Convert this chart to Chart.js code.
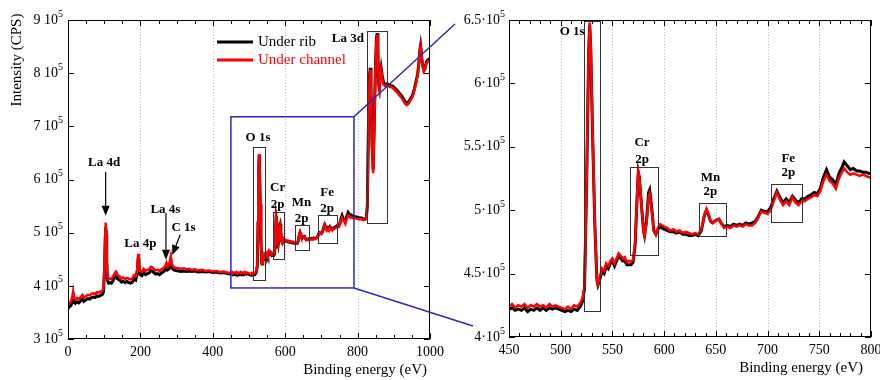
<!DOCTYPE html>
<html>
<head>
<meta charset="utf-8">
<script src="https://cdn.jsdelivr.net/npm/chart.js@4"></script>
<style>
  html, body { margin:0; padding:0; background:#fff; }
  #wrap { position:relative; width:880px; height:380px; }
  #wrap canvas { position:absolute; left:0; top:0; }
</style>
</head>
<body>
<div id="wrap">
  <canvas id="survey" width="880" height="380"></canvas>
  <canvas id="detail" width="880" height="380"></canvas>
</div>
<script>
/* ======= Data (binding energy in eV, intensity in kCPS) ======= */
const energy = [
  0,4,8,12,14,16,20,25,30,35,40,44,50,55,60,65,70,75,80,85,90,95,98,
  101,103,104,105,107,109,112,116,120,125,130,133,137,142,148,152,158,163,168,173,178,183,187,191,194,196,199,
  204,209,214,219,224,229,233,238,243,248,253,258,263,268,272,275,279,284,287,292,298,
  305,312,320,328,335,342,350,360,370,380,390,400,410,420,430,440,450,
  453,456,459,462,465,468,471,474,477,480,483,486,489,492,495,498,501,504,507,510,513,516,519,
  521,523,525,527,528,529,531,533,535,536,538,540,542,544,546,548,550,552,554,556,558,560,562,564,566,568,570,
  572,574,575,576,578,580,581,583,585,586,588,590,592,594,596,598,600,
  603,606,609,612,615,618,621,624,627,630,633,636,639,641,643,645,647,650,653,655,658,661,664,667,670,673,676,679,682,685,688,691,694,697,700,
  703,706,709,712,715,718,721,724,727,730,733,736,739,742,745,748,751,754,757,760,763,766,769,772,774,777,780,783,786,789,792,795,798,801,
  805,810,815,820,824,827,830,833,835,837,840,843,846,849,852,854,856,858,860,862,865,868,872,877,883,890,896,903,910,916,922,928,933,937,942,947,952,957,962,966,969,972,974,976,979,983,986,990,994,997,1000
];
const underChannel = [
  364,368,370,380,388,376,374,377,375,379,383,378,381,383,382,385,386,385,388,387,389,391,395,
  440,500,519,505,450,418,412,414,413,418,425,427,420,418,414,416,413,415,413,412,414,420,418,430,460,445,428,
  426,432,428,430,431,436,435,431,429,430,428,431,433,436,443,436,438,455,440,435,434,
  433,432,433,431,432,430,431,429,430,428,429,427,428,426,427,425,424,
  426,423,425,424,426,423,425,424,426,424,425,423,426,424,425,424,423,422,424,422,425,424,427,
  430,440,520,625,648,630,555,490,446,442,448,454,452,458,456,460,462,458,462,466,464,462,463,459,460,459,461,
  475,515,530,526,505,484,480,490,510,513,500,484,481,486,489,488,487,
  486,484,485,483,484,482,483,482,481,482,481,485,497,501,497,491,490,492,493,490,486,487,486,488,487,488,487,489,488,488,490,494,499,498,497,
  500,507,514,508,504,507,504,510,506,504,507,507,509,510,512,511,515,523,528,523,521,517,525,530,533,530,528,529,528,527,528,527,526,526,
  525,526,524,524,526,550,700,790,806,760,660,612,700,800,860,872,840,775,768,790,806,790,778,775,777,774,773,768,763,758,753,746,741,740,744,750,756,768,783,796,815,840,850,838,815,803,806,818,822,823,822
];
const underRib = [
  357,361,363,372,380,369,367,370,368,372,376,371,374,376,375,378,379,378,381,380,382,384,388,
  432,492,511,497,443,410,405,406,405,410,418,420,413,411,407,409,406,408,406,405,407,413,411,423,452,438,421,
  419,425,421,423,424,429,428,424,422,423,421,424,426,430,437,430,432,449,434,430,429,
  428,427,428,427,428,427,428,426,427,426,427,425,426,424,425,423,422,
  423,421,422,421,423,420,422,421,423,421,423,421,423,422,423,422,421,420,421,420,422,421,424,
  428,438,518,623,646,628,553,488,445,441,446,452,450,456,454,458,460,456,460,464,462,460,460,457,457,457,459,
  473,513,530,526,505,484,480,492,514,516,502,484,481,485,487,486,485,
  484,483,483,482,483,481,481,480,480,481,480,484,496,500,496,491,490,492,493,490,487,488,487,489,488,489,488,490,489,490,491,495,500,499,499,
  502,509,515,510,506,509,506,511,508,506,509,509,511,512,514,513,517,526,532,526,524,520,529,534,538,535,532,533,531,531,530,530,529,529,
  527,528,526,525,527,552,705,795,810,765,665,618,705,805,865,875,845,780,773,795,810,795,782,779,780,777,776,772,767,762,757,750,745,744,747,753,759,771,786,799,818,843,852,840,817,806,809,821,825,826,825
];

/* ticks */
const surveyXTicks = [0, 200, 400, 600, 800, 1000];
const surveyYTicks = [3e5, 4e5, 5e5, 6e5, 7e5, 8e5, 9e5];
const detailXTicks = [450, 500, 550, 600, 650, 700, 750, 800];
const detailYTicks = [4e5, 4.5e5, 5e5, 5.5e5, 6e5, 6.5e5];

/* annotations (data units: eV, CPS) */
const surveyBoxes = [
  { x0: 511, x1: 543, y0: 4.11e5, y1: 6.62e5 },
  { x0: 565, x1: 597, y0: 4.50e5, y1: 5.38e5 },
  { x0: 628, x1: 665, y0: 4.68e5, y1: 5.15e5 },
  { x0: 690, x1: 743, y0: 4.80e5, y1: 5.33e5 },
  { x0: 825, x1: 882, y0: 5.19e5, y1: 8.80e5 }
];
const surveyLabels = [
  { text: 'La 4d', x: 100, y: 6.31e5 },
  { text: 'La 4p', x: 200, y: 4.80e5 },
  { text: 'La 4s', x: 269, y: 5.44e5 },
  { text: 'C 1s', x: 319, y: 5.10e5 },
  { text: 'O 1s', x: 525, y: 6.78e5 },
  { text: 'Cr', x: 579, y: 5.84e5 }, { text: '2p', x: 579, y: 5.52e5 },
  { text: 'Mn', x: 645, y: 5.57e5 }, { text: '2p', x: 645, y: 5.27e5 },
  { text: 'Fe', x: 716, y: 5.75e5 }, { text: '2p', x: 716, y: 5.46e5 },
  { text: 'La 3d', x: 773, y: 8.64e5 }
];
const surveyArrows = [
  { x0: 104, y0: 6.14e5, x1: 104, y1: 5.32e5 },
  { x0: 270.6, y0: 5.37e5, x1: 270.6, y1: 4.49e5 },
  { x0: 310, y0: 4.96e5, x1: 288, y1: 4.58e5 }
];
const zoomRegion = { x0: 450, x1: 790, y0: 3.96e5, y1: 7.18e5 };

const detailBoxes = [
  { x0: 522.7, x1: 537.5, y0: 4.205e5, y1: 6.49e5 },
  { x0: 567.2, x1: 594, y0: 4.65e5, y1: 5.34e5 },
  { x0: 633.4, x1: 660, y0: 4.80e5, y1: 5.06e5 },
  { x0: 703.6, x1: 733.6, y0: 4.91e5, y1: 5.21e5 }
];
const detailLabels = [
  { text: 'O 1s', x: 511, y: 6.41e5 },
  { text: 'Cr', x: 578.6, y: 5.53e5 }, { text: '2p', x: 578.6, y: 5.40e5 },
  { text: 'Mn', x: 644.8, y: 5.26e5 }, { text: '2p', x: 644.8, y: 5.145e5 },
  { text: 'Fe', x: 720, y: 5.41e5 }, { text: '2p', x: 720, y: 5.30e5 }
];

/* ======= Helpers ======= */
const SERIF = '"Liberation Serif", "Times New Roman", serif';
const BLUE = '#2a2ab8';

function sciLabel(ctx, v, sep, xRight, yMid) {
  const base = String(+(v / 1e5).toFixed(1)) + sep + '10';
  ctx.font = '14px ' + SERIF;
  const wb = ctx.measureText(base).width;
  ctx.font = '10px ' + SERIF;
  const we = ctx.measureText('5').width;
  const x0 = xRight - wb - we;
  ctx.textAlign = 'left';
  ctx.textBaseline = 'middle';
  ctx.font = '14px ' + SERIF;
  ctx.fillText(base, x0, yMid);
  ctx.font = '10px ' + SERIF;
  ctx.fillText('5', x0 + wb, yMid - 6);
}

function arrow(ctx, x0, y0, x1, y1) {
  const ang = Math.atan2(y1 - y0, x1 - x0);
  const hl = 10, hw = 4;
  const bx = x1 - hl * Math.cos(ang), by = y1 - hl * Math.sin(ang);
  ctx.beginPath(); ctx.moveTo(x0, y0); ctx.lineTo(bx, by); ctx.stroke();
  ctx.beginPath(); ctx.moveTo(x1, y1);
  ctx.lineTo(bx + hw * Math.sin(ang), by - hw * Math.cos(ang));
  ctx.lineTo(bx - hw * Math.sin(ang), by + hw * Math.cos(ang));
  ctx.closePath(); ctx.fill();
}

/* ======= Axes / annotations plugin ======= */
const framePlugin = {
  id: 'frame',
  beforeDatasetsDraw(chart, args, o) {
    const { ctx, chartArea: a, scales: { x } } = chart;
    ctx.save();
    ctx.strokeStyle = '#b4b4f4';
    ctx.lineWidth = 1;
    ctx.setLineDash([1, 2]);
    ctx.beginPath();
    for (const t of o.xTicks) {
      if (t <= x.min || t >= x.max) continue;
      const px = Math.round(x.getPixelForValue(t)) + 0.5;
      ctx.moveTo(px, a.top); ctx.lineTo(px, a.bottom);
    }
    ctx.stroke();
    ctx.restore();
  },
  afterDatasetsDraw(chart, args, o) {
    const { ctx, chartArea: a, scales: { x, y } } = chart;
    ctx.save();

    // frame + inward ticks
    ctx.strokeStyle = '#000';
    ctx.lineWidth = 1;
    ctx.strokeRect(a.left + 0.5, a.top + 0.5, a.right - a.left - 1, a.bottom - a.top - 1);
    ctx.beginPath();
    for (let v = x.min; v <= x.max + 1e-6; v += o.xMinor) {
      const px = Math.round(x.getPixelForValue(v)) + 0.5;
      const len = o.xTicks.includes(v) ? 6 : 4;
      ctx.moveTo(px, a.bottom); ctx.lineTo(px, a.bottom - len);
      ctx.moveTo(px, a.top); ctx.lineTo(px, a.top + len);
    }
    for (const t of o.yTicks) {
      const py = Math.round(y.getPixelForValue(t)) + 0.5;
      ctx.moveTo(a.left, py); ctx.lineTo(a.left + 6, py);
      ctx.moveTo(a.right, py); ctx.lineTo(a.right - 6, py);
    }
    ctx.stroke();

    // tick labels
    ctx.fillStyle = '#000';
    ctx.font = '14px ' + SERIF;
    ctx.textAlign = 'center';
    ctx.textBaseline = 'middle';
    for (const t of o.xTicks) ctx.fillText(String(t), x.getPixelForValue(t), a.bottom + 13);
    for (const t of o.yTicks) sciLabel(ctx, t, o.sep, a.left - o.yGap, y.getPixelForValue(t));

    // axis titles
    ctx.font = '15px ' + SERIF;
    ctx.textAlign = 'right';
    ctx.textBaseline = 'middle';
    ctx.fillText('Binding energy (eV)', a.right - o.xTitleInset, a.bottom + 31);
    if (o.yTitle) {
      ctx.save();
      ctx.translate(17, a.top + 40);
      ctx.rotate(-Math.PI / 2);
      ctx.textAlign = 'center';
      ctx.fillText(o.yTitle, 0, 0);
      ctx.restore();
    }

    // peak boxes
    ctx.strokeStyle = '#333';
    ctx.lineWidth = 1;
    for (const b of o.boxes) {
      const x0 = Math.round(x.getPixelForValue(b.x0)) + 0.5, x1 = Math.round(x.getPixelForValue(b.x1)) + 0.5;
      const y0 = Math.round(y.getPixelForValue(b.y0)) + 0.5, y1 = Math.round(y.getPixelForValue(b.y1)) + 0.5;
      ctx.strokeRect(x0, y1, x1 - x0, y0 - y1);
    }

    // peak labels
    ctx.font = 'bold 13px ' + SERIF;
    ctx.textAlign = 'center';
    ctx.textBaseline = 'middle';
    for (const l of o.labels) ctx.fillText(l.text, x.getPixelForValue(l.x), y.getPixelForValue(l.y));

    // arrows
    ctx.strokeStyle = '#000';
    ctx.lineWidth = 1.2;
    for (const r of (o.arrows || [])) {
      arrow(ctx, x.getPixelForValue(r.x0), y.getPixelForValue(r.y0), x.getPixelForValue(r.x1), y.getPixelForValue(r.y1));
    }

    // zoom region rectangle
    if (o.region) {
      const r = o.region;
      ctx.strokeStyle = BLUE;
      ctx.lineWidth = 1.5;
      const x0 = x.getPixelForValue(r.x0), x1 = x.getPixelForValue(r.x1);
      const y0 = y.getPixelForValue(r.y0), y1 = y.getPixelForValue(r.y1);
      ctx.strokeRect(x0, y1, x1 - x0, y0 - y1);
    }

    // legend
    if (o.legend) {
      const lx = a.left + 149;
      chart.data.datasets.forEach((ds, i) => {
        const ly = a.top + 22 + i * 18;
        ctx.strokeStyle = ds.borderColor;
        ctx.lineWidth = 3;
        ctx.beginPath(); ctx.moveTo(lx, ly); ctx.lineTo(lx + 36, ly); ctx.stroke();
        ctx.fillStyle = ds.borderColor;
        ctx.font = '15px ' + SERIF;
        ctx.textAlign = 'left';
        ctx.fillText(ds.label, lx + 41, ly);
      });
    }

    // connector lines from the survey's zoom region to this panel
    if (o.connectFrom) {
      const src = o.connectFrom();
      if (src) {
        const sx = src.scales.x, sy = src.scales.y;
        const rx = sx.getPixelForValue(zoomRegion.x1);
        ctx.strokeStyle = BLUE;
        ctx.lineWidth = 1.5;
        ctx.beginPath();
        ctx.moveTo(rx, sy.getPixelForValue(zoomRegion.y1)); ctx.lineTo(a.left - 54, a.top + 4);
        ctx.moveTo(rx, sy.getPixelForValue(zoomRegion.y0)); ctx.lineTo(a.left - 36, a.bottom - 11);
        ctx.stroke();
      }
    }
    ctx.restore();
  }
};

/* ======= Charts ======= */
function series() {
  return [
    { label: 'Under rib', data: energy.map((e, i) => ({ x: e, y: underRib[i] * 1000 })),
      borderColor: '#000000', borderWidth: 3, pointRadius: 0, order: 2 },
    { label: 'Under channel', data: energy.map((e, i) => ({ x: e, y: underChannel[i] * 1000 })),
      borderColor: '#ff0000', borderWidth: 2.5, pointRadius: 0, order: 1 }
  ];
}

function makeChart(id, cfg) {
  return new Chart(document.getElementById(id), {
    type: 'line',
    data: { datasets: series() },
    options: {
      responsive: false, animation: false, devicePixelRatio: 1,
      layout: { padding: cfg.padding },
      plugins: { legend: { display: false }, tooltip: { enabled: false }, frame: cfg.frame },
      scales: {
        x: { type: 'linear', min: cfg.xMin, max: cfg.xMax,
             ticks: { display: false }, grid: { display: false }, border: { display: false },
             afterFit: s => { s.height = cfg.xHeight; } },
        y: { type: 'linear', min: cfg.yMin, max: cfg.yMax,
             ticks: { display: false }, grid: { display: false }, border: { display: false },
             afterFit: s => { s.width = cfg.yWidth; } }
      }
    },
    plugins: [framePlugin]
  });
}

let surveyChart = null;

surveyChart = makeChart('survey', {
  padding: { left: 0, top: 20, right: 450, bottom: 0 },
  xMin: 0, xMax: 1000, yMin: 3e5, yMax: 9e5, xHeight: 41, yWidth: 68,
  frame: {
    xTicks: surveyXTicks, xMinor: 50, yTicks: surveyYTicks, sep: ' ', yGap: 5,
    xTitleInset: 3, yTitle: 'Intensity (CPS)',
    boxes: surveyBoxes, labels: surveyLabels, arrows: surveyArrows,
    region: zoomRegion, legend: true
  }
});

const detailChart = makeChart('detail', {
  padding: { left: 499, top: 20, right: 9, bottom: 0 },
  xMin: 450, xMax: 800, yMin: 4e5, yMax: 6.5e5, xHeight: 43, yWidth: 10,
  frame: {
    xTicks: detailXTicks, xMinor: 10, yTicks: detailYTicks, sep: '\u00b7', yGap: 4,
    xTitleInset: 8, yTitle: null,
    boxes: detailBoxes, labels: detailLabels,
    connectFrom: () => surveyChart
  }
});
</script>
</body>
</html>
